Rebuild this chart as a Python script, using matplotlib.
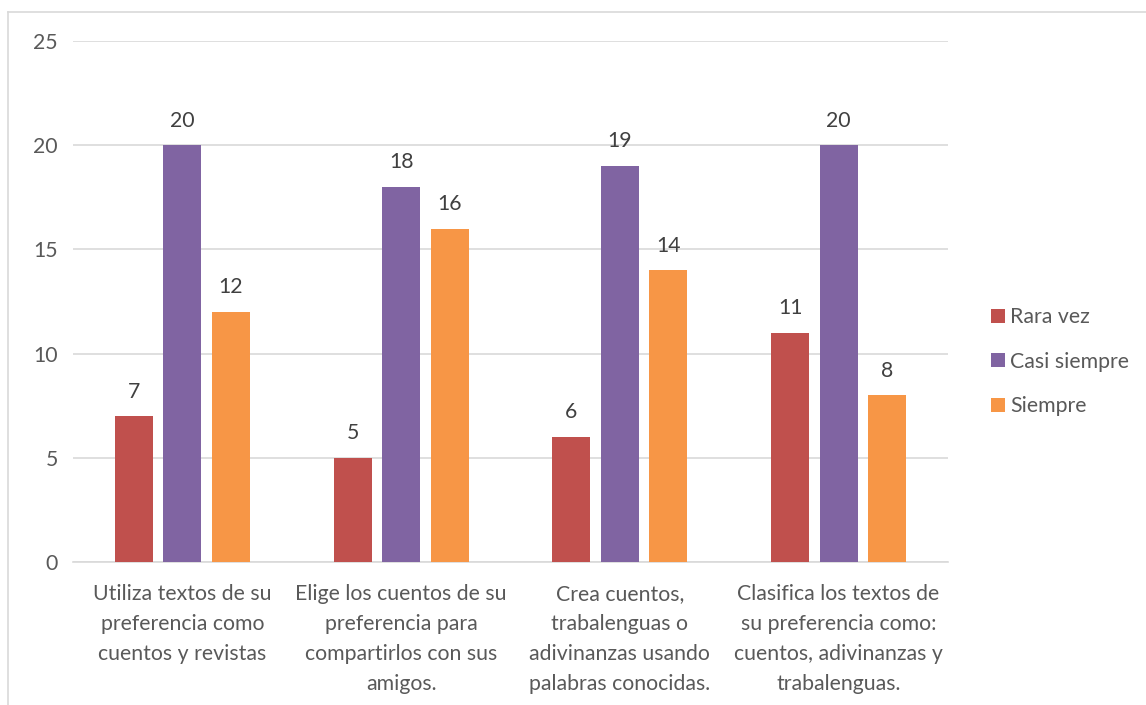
import matplotlib.pyplot as plt
import numpy as np
from matplotlib.lines import Line2D

categories = [
    "Utiliza textos de su\npreferencia como\ncuentos y revistas",
    "Elige los cuentos de su\npreferencia para\ncompartirlos con sus\namigos.",
    "Crea cuentos,\ntrabalenguas o\nadivinanzas usando\npalabras conocidas.",
    "Clasifica los textos de\nsu preferencia como:\ncuentos, adivinanzas y\ntrabalenguas.",
]
series_names = ["Rara vez", "Casi siempre", "Siempre"]
rara_vez = [7, 5, 6, 11]
casi_siempre = [20, 18, 19, 20]
siempre = [12, 16, 14, 8]
colors = ["#C0504D", "#8064A2", "#F79646"]

plt.rcParams['font.family'] = ['Lato', 'DejaVu Sans']
text_color = "#595959"
fs = 15.3

fig = plt.figure(figsize=(11.46, 7.05), dpi=100)
ax = fig.add_axes([0.0637, 0.2028, 0.7635, 0.739])

x = np.arange(len(categories))
width = 0.174
step = 0.222
for i, (vals, name) in enumerate(zip([rara_vez, casi_siempre, siempre], series_names)):
    bars = ax.bar(x + (i - 1) * step, vals, width, color=colors[i], label=name, zorder=3)
    for b in bars:
        ax.text(b.get_x() + b.get_width() / 2, b.get_height() + 0.7, f"{int(b.get_height())}",
                ha='center', va='bottom', fontsize=fs, color='#404040')

ax.set_xlim(-0.5, len(categories) - 0.5)
ax.set_ylim(0, 25)
ax.set_yticks(range(0, 26, 5))
ax.yaxis.grid(True, color='#d9d9d9', linewidth=1.2, zorder=0)
ax.set_axisbelow(True)
for s in ['top', 'right', 'left']:
    ax.spines[s].set_visible(False)
ax.spines['bottom'].set_color('#d9d9d9')
ax.spines['bottom'].set_linewidth(1.2)
ax.tick_params(axis='both', length=0, labelsize=fs, colors=text_color)
ax.tick_params(axis='y', pad=11)
ax.tick_params(axis='x', pad=16)
ax.set_xticks(x)
ax.set_xticklabels(categories, va='top', linespacing=1.62)

leg = fig.legend(loc='center left', bbox_to_anchor=(0.848, 0.487), frameon=False,
                 fontsize=fs, handlelength=0.65, handleheight=0.65, handletextpad=0.25,
                 labelspacing=1.15, labelcolor=text_color)

# chart frame (left and top edges visible)
fig.add_artist(Line2D([8 / 1146, 8 / 1146], [0, 1 - 12 / 705], transform=fig.transFigure,
                      color='#d9d9d9', linewidth=1.2))
fig.add_artist(Line2D([8 / 1146, 1], [1 - 12 / 705, 1 - 12 / 705], transform=fig.transFigure,
                      color='#d9d9d9', linewidth=1.2))

fig.savefig("out.png", dpi=100)
